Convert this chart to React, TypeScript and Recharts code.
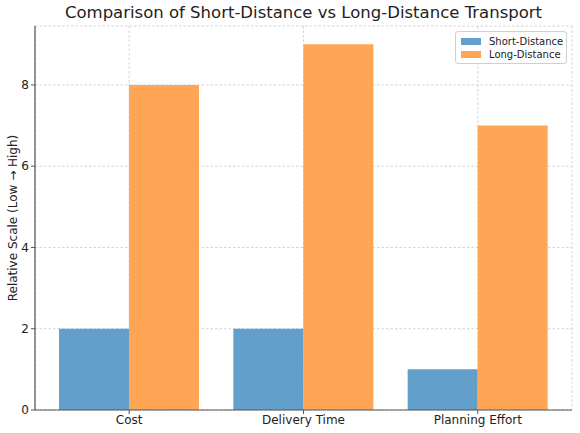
import React from 'react';
import { BarChart, Bar, XAxis, YAxis, CartesianGrid, Legend } from 'recharts';

const categories = ['Cost', 'Delivery Time', 'Planning Effort'];
const shortDistance = [2, 2, 1];
const longDistance = [8, 9, 7];
const yTicks = [0, 2, 4, 6, 8];
const seriesNames = ['Short-Distance', 'Long-Distance'];
const colors = ['#629fca', '#ffa556'];

const data = categories.map((c, i) => ({
  name: c,
  short: shortDistance[i],
  long: longDistance[i],
}));

const FONT = '"DejaVu Sans", sans-serif';

const LegendBox = () => (
  <div
    style={{
      position: 'absolute',
      left: 455,
      top: 31,
      width: 112,
      height: 33,
      boxSizing: 'border-box',
      border: '1px solid #d0d0d0',
      borderRadius: 3,
      background: 'rgba(255,255,255,0.8)',
      fontFamily: FONT,
      fontSize: 10,
      color: '#222',
      padding: '3px 0 0 5px',
    }}
  >
    {seriesNames.map((n, i) => (
      <div key={n} style={{ display: 'flex', alignItems: 'center', height: 13 }}>
        <span style={{ display: 'inline-block', width: 20, height: 7, background: colors[i], marginRight: 8 }} />
        <span>{n}</span>
      </div>
    ))}
  </div>
);

export default function App() {
  return (
    <div style={{ position: 'absolute', left: 0, top: 0, width: 580, height: 433, background: '#fff' }}>
      <div
        style={{
          position: 'absolute',
          left: 35,
          width: 537,
          top: 3,
          textAlign: 'center',
          fontFamily: FONT,
          fontSize: 16.5,
          color: '#222',
        }}
      >
        Comparison of Short-Distance vs Long-Distance Transport
      </div>
      <div
        style={{
          position: 'absolute',
          left: 13,
          top: 218,
          transform: 'translate(-50%, -50%) rotate(-90deg)',
          whiteSpace: 'nowrap',
          fontFamily: FONT,
          fontSize: 12,
          color: '#222',
        }}
      >
        Relative Scale (Low → High)
      </div>
      <BarChart
        width={580}
        height={433}
        data={data}
        margin={{ top: 26, right: 8, bottom: 0, left: 0 }}
        barGap={0}
        style={{ position: 'absolute', left: 0, top: 0 }}
      >
        <CartesianGrid stroke="#c8c8c8" strokeDasharray="2.5 2" strokeWidth={0.8} />
        <XAxis
          dataKey="name"
          height={23}
          padding={{ left: 7, right: 7 }}
          tickSize={4}
          tickMargin={1}
          tick={{ fill: '#222', fontSize: 12, fontFamily: FONT }}
          axisLine={{ stroke: '#555', strokeWidth: 1.2 }}
          tickLine={{ stroke: '#555' }}
        />
        <YAxis
          width={35}
          domain={[0, 9.45]}
          ticks={yTicks}
          tickSize={4}
          tickMargin={2}
          allowDataOverflow
          tick={{ fill: '#222', fontSize: 12, fontFamily: FONT }}
          axisLine={{ stroke: '#555', strokeWidth: 1.2 }}
          tickLine={{ stroke: '#555' }}
        />
        <Legend content={() => null} />
        <Bar dataKey="short" name={seriesNames[0]} fill={colors[0]} barSize={70} isAnimationActive={false} />
        <Bar dataKey="long" name={seriesNames[1]} fill={colors[1]} barSize={70} isAnimationActive={false} />
      </BarChart>
      <LegendBox />
    </div>
  );
}
